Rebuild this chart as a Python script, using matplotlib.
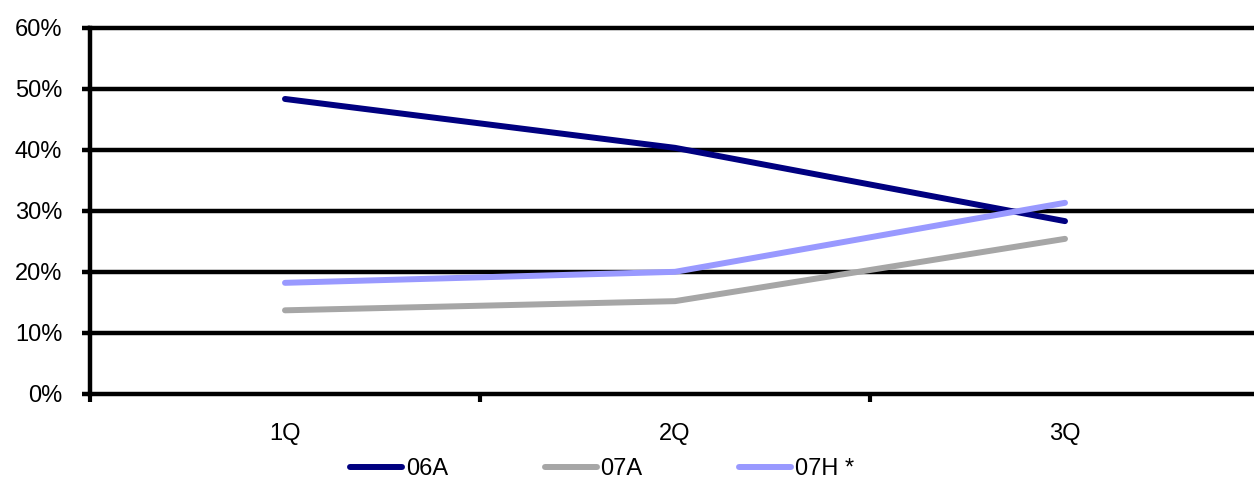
import matplotlib
matplotlib.use("Agg")
import matplotlib.pyplot as plt
from matplotlib.ticker import FixedLocator, PercentFormatter

categories = ["1Q", "2Q", "3Q"]
series_names = ["06A", "07A", "07H *"]
v06A = [48.3, 40.3, 28.3]
v07A = [13.7, 15.2, 25.4]
v07H = [18.2, 20.0, 31.3]
colors = ["#000080", "#A6A6A6", "#9999FF"]
yticks = [0, 10, 20, 30, 40, 50, 60]

plt.rcParams['font.family'] = ['Liberation Sans', 'DejaVu Sans']

W, H = 1254, 482
fig = plt.figure(figsize=(W / 100, H / 100), dpi=100)
left, right, top, bottom = 90, 1260, 27.5, 394
ax = fig.add_axes([left / W, (H - bottom) / H, (right - left) / W, (bottom - top) / H])

x = list(range(1, len(categories) + 1))
for vals, name, c in zip([v06A, v07A, v07H], series_names, colors):
    ax.plot(x, vals, color=c, lw=4.3, solid_capstyle='round', solid_joinstyle='round',
            label=name, zorder=3)

ax.set_xlim(0.5, 3.5)
ax.set_ylim(0, 60)
ax.set_yticks(yticks)
ax.yaxis.set_major_formatter(PercentFormatter(decimals=0))
ax.grid(axis='y', color='black', lw=3.2, zorder=1)
for gl in ax.get_ygridlines():
    gl.set_clip_on(False)
ax.set_axisbelow(True)

ax.set_xticks(x)
ax.set_xticklabels(categories)
ax.xaxis.set_minor_locator(FixedLocator([0.5, 1.5, 2.5, 3.5]))
ax.tick_params(axis='x', which='major', length=0, pad=21, labelsize=17)
ax.tick_params(axis='x', which='minor', length=6, width=3.0, direction='out', color='black')
ax.tick_params(axis='y', length=6, width=3.2, direction='out', pad=14, labelsize=17, color='black')

for s in ['top', 'right', 'bottom']:
    ax.spines[s].set_visible(False)
ax.spines['left'].set_linewidth(3.2)
ax.spines['left'].set_color('black')

leg = fig.legend(loc='center', bbox_to_anchor=(602 / W, 1 - 469 / H), ncol=3, frameon=False,
                 fontsize=17, handlelength=2.2, handletextpad=0.15, columnspacing=4.1)

fig.savefig("out.png", dpi=100)
